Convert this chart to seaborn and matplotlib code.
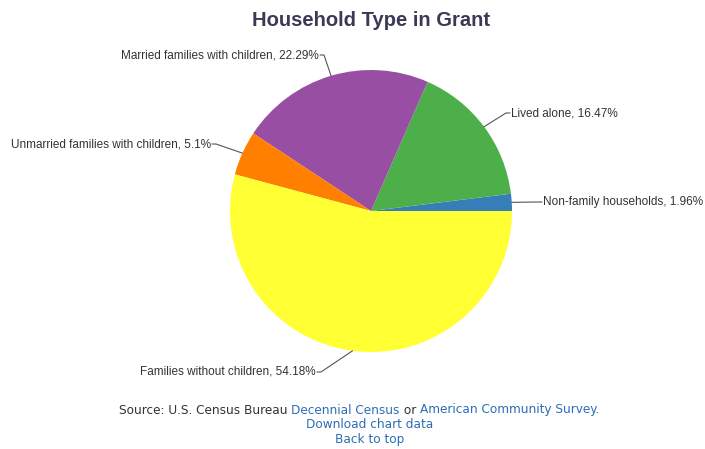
import matplotlib
matplotlib.use("Agg")
import matplotlib.pyplot as plt
import seaborn as sns
import numpy as np

sns.set_theme(style="white")
plt.rcParams['font.family'] = ['Liberation Sans', 'DejaVu Sans']

categories = ["Non-family households", "Lived alone", "Married families with children",
              "Unmarried families with children", "Families without children"]
values = [1.96, 16.47, 22.29, 5.1, 54.18]
labels = ["Non-family households, 1.96%", "Lived alone, 16.47%",
          "Married families with children, 22.29%", "Unmarried families with children, 5.1%",
          "Families without children, 54.18%"]
colors = sns.color_palette("Set1", 9)
slice_colors = [colors[1], colors[2], colors[3], colors[4], colors[5]]

W, H = 705, 449
fig = plt.figure(figsize=(W / 100, H / 100), dpi=100)
fig.patch.set_facecolor("white")

cx, cy, r = 371, 211, 141
ax = fig.add_axes([(cx - r) / W, (H - cy - r) / H, 2 * r / W, 2 * r / H])
wedges, _ = ax.pie(values, colors=slice_colors, startangle=0, counterclock=True,
                   radius=1, wedgeprops=dict(linewidth=0))
ax.set_xlim(-1, 1)
ax.set_ylim(-1, 1)
ax.set_aspect("equal")
ax.axis("off")

def px(x, y):
    return ((x - cx) / r, (cy - y) / r)

# leader elbow (pixel) and label side
elbows = [(538, 202, 'left'), (506, 113, 'left'), (324, 55, 'right'),
          (216, 144, 'right'), (321, 372, 'right')]
for w, lab, (ex, ey, side) in zip(wedges, labels, elbows):
    ang = np.deg2rad((w.theta1 + w.theta2) / 2)
    sx, sy = np.cos(ang), np.sin(ang)
    e = px(ex, ey)
    end = px(ex + (4 if side == 'left' else -4), ey)
    ax.plot([sx, e[0], end[0]], [sy, e[1], end[1]], color="#555555", lw=0.8,
            clip_on=False)
    tx = px(ex + (5 if side == 'left' else -5), ey)
    ax.text(tx[0], tx[1], lab, ha='left' if side == 'left' else 'right',
            va='center', fontsize=8.5, color="#333333", clip_on=False)

fig.text(cx / W, 1 - 20 / H, "Household Type in Grant", ha='center', va='center',
         fontsize=14.5, fontweight='bold', color="#3a3a55")

# footer
blue = "#2d6db5"
gray = "#333333"
parts = [("Source: U.S. Census Bureau ", gray), ("Decennial Census", blue),
         (" or ", gray), ("American Community Survey.", blue)]
fs = 8.7
fam = ['DejaVu Sans']
fig.canvas.draw()
rend = fig.canvas.get_renderer()
tmp = [fig.text(0, 0, t, fontsize=fs, family=fam) for t, _ in parts]
widths = [t.get_window_extent(rend).width for t in tmp]
for t in tmp:
    t.remove()
total = sum(widths)
x0 = 359 - total / 2
for (t, c), w in zip(parts, widths):
    fig.text(x0 / W, 1 - 410 / H, t, fontsize=fs, family=fam, color=c,
             ha='left', va='center')
    x0 += w
fig.text(370 / W, 1 - 425 / H, "Download chart data", fontsize=fs, family=fam,
         color=blue, ha='center', va='center')
fig.text(370 / W, 1 - 440 / H, "Back to top", fontsize=fs, family=fam,
         color=blue, ha='center', va='center')

fig.savefig("out.png", dpi=100, facecolor="white")
